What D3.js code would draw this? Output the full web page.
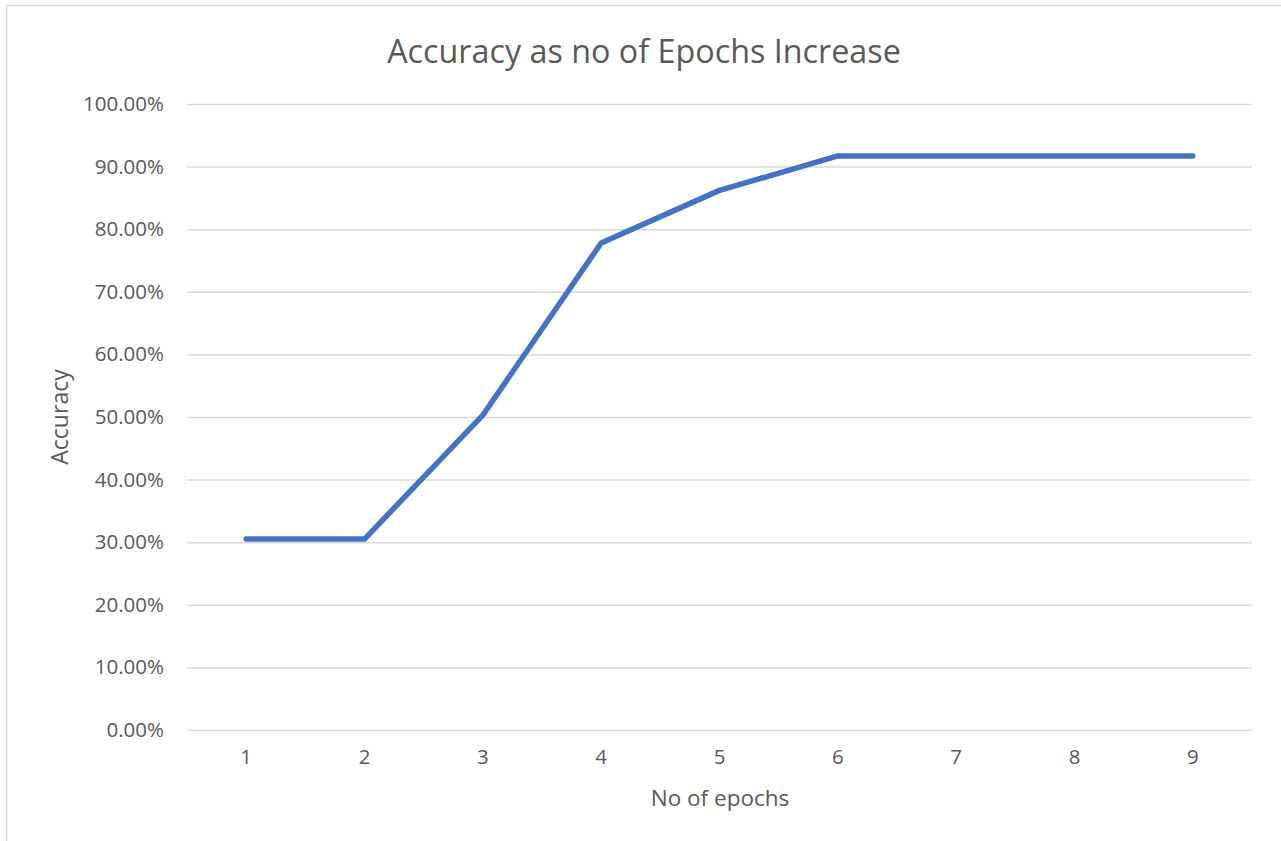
<!DOCTYPE html>
<html>
<head>
<meta charset="utf-8">
<script src="https://cdn.jsdelivr.net/npm/d3@7"></script>
<style>
  html, body { margin: 0; padding: 0; background: #fff; }
  svg { display: block; }
  text { font-family: "Open Sans", sans-serif; fill: #595959; }
</style>
</head>
<body>
<svg id="chart" width="1281" height="841"></svg>
<script>
const epochs = [1, 2, 3, 4, 5, 6, 7, 8, 9];
const accuracy = [0.305, 0.305, 0.503, 0.778, 0.862, 0.917, 0.917, 0.917, 0.917];
const yTicks = [0, 0.1, 0.2, 0.3, 0.4, 0.5, 0.6, 0.7, 0.8, 0.9, 1.0];
const chartTitle = "Accuracy as no of Epochs Increase";
const xTitle = "No of epochs";
const yTitle = "Accuracy";

const svg = d3.select("#chart");
const W = 1281, H = 841;
const plot = { left: 187, right: 1252, top: 104, bottom: 730 };

// outer chart border
svg.append("rect")
  .attr("x", 6.5).attr("y", 5.5)
  .attr("width", W).attr("height", H)
  .attr("fill", "#fff").attr("stroke", "#d9d9d9").attr("stroke-width", 1.5);

const x = d3.scaleBand().domain(epochs).range([plot.left, plot.right]);
const y = d3.scaleLinear().domain([0, 1]).range([plot.bottom, plot.top]);
const xc = d => x(d) + x.bandwidth() / 2;

// gridlines + y labels
const yAxis = d3.axisLeft(y)
  .tickValues(yTicks)
  .tickSize(-(plot.right - plot.left))
  .tickPadding(23)
  .tickFormat(d3.format(".2%"));
const gy = svg.append("g").attr("transform", `translate(${plot.left},0)`).call(yAxis);
gy.select(".domain").remove();
gy.selectAll(".tick line").attr("stroke", "#d9d9d9").attr("stroke-width", 1.5);
gy.selectAll(".tick text").attr("font-size", 20.5).attr("fill", "#595959")
  .style("font-family", "'Open Sans', sans-serif");

// x labels
const xAxis = d3.axisBottom(x).tickSize(0).tickPadding(19);
const gx = svg.append("g").attr("transform", `translate(0,${plot.bottom})`).call(xAxis);
gx.select(".domain").remove();
gx.selectAll(".tick text").attr("font-size", 20.5).attr("fill", "#595959")
  .style("font-family", "'Open Sans', sans-serif");

// line
const line = d3.line().x((d, i) => xc(epochs[i])).y(d => y(d));
svg.append("path")
  .datum(accuracy)
  .attr("d", line)
  .attr("fill", "none")
  .attr("stroke", "#4472C4")
  .attr("stroke-width", 5.5)
  .attr("stroke-linecap", "round")
  .attr("stroke-linejoin", "round");

// titles
svg.append("text")
  .attr("x", 644).attr("y", 50)
  .attr("text-anchor", "middle").attr("dominant-baseline", "central")
  .attr("font-size", 32.3).text(chartTitle);

svg.append("text")
  .attr("x", 720).attr("y", 797)
  .attr("text-anchor", "middle").attr("dominant-baseline", "central")
  .attr("font-size", 22.5).text(xTitle);

svg.append("text")
  .attr("transform", "translate(59,417) rotate(-90)")
  .attr("text-anchor", "middle").attr("dominant-baseline", "central")
  .attr("font-size", 23).text(yTitle);
</script>
</body>
</html>
